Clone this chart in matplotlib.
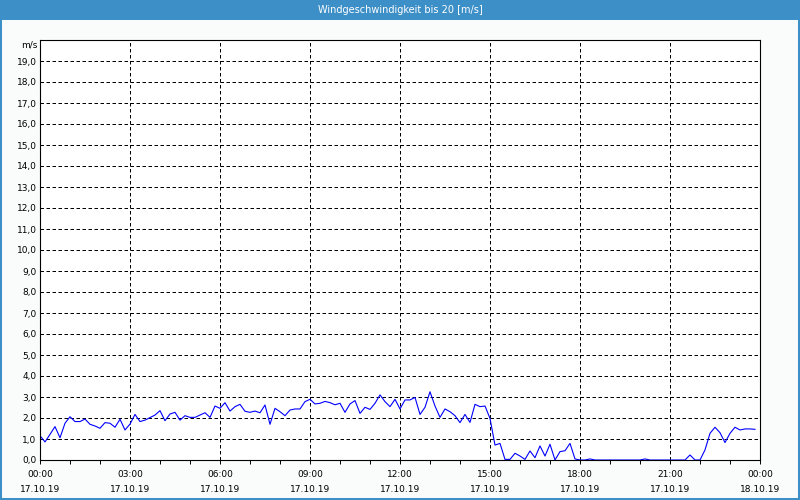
import numpy as np
import pandas as pd
import matplotlib
matplotlib.use('Agg')
from matplotlib import pyplot as plt
from matplotlib.patches import Rectangle
import matplotlib.dates as mdates

TITLE = 'Windgeschwindigkeit bis 20 [m/s]'
UNIT = 'm/s'
START = '2019-10-17 00:00'

# wind speed in m/s, one value every 10 minutes (00:00 .. 23:50)
wind = [
    1.16, 0.86, 1.22, 1.59, 1.06, 1.75,
    2.06, 1.83, 1.83, 1.95, 1.70, 1.62,
    1.51, 1.78, 1.75, 1.56, 1.94, 1.43,
    1.71, 2.17, 1.83, 1.90, 2.02, 2.14,
    2.35, 1.87, 2.19, 2.27, 1.90, 2.11,
    2.03, 2.03, 2.14, 2.25, 2.03, 2.57,
    2.46, 2.73, 2.33, 2.54, 2.65, 2.32,
    2.27, 2.33, 2.25, 2.62, 1.70, 2.46,
    2.30, 2.11, 2.38, 2.43, 2.43, 2.78,
    2.89, 2.67, 2.70, 2.79, 2.73, 2.63,
    2.70, 2.27, 2.67, 2.83, 2.22, 2.51,
    2.41, 2.70, 3.10, 2.78, 2.54, 2.89,
    2.43, 2.86, 2.86, 2.98, 2.17, 2.51,
    3.25, 2.57, 2.03, 2.43, 2.30, 2.11,
    1.78, 2.17, 1.79, 2.65, 2.54, 2.57,
    1.98, 0.71, 0.79, 0.03, 0.03, 0.32,
    0.19, 0.03, 0.43, 0.11, 0.67, 0.19,
    0.75, 0.00, 0.40, 0.44, 0.79, 0.05,
    0.00, 0.00, 0.05, 0.00, 0.00, 0.00,
    0.00, 0.00, 0.00, 0.00, 0.00, 0.00,
    0.00, 0.05, 0.00, 0.00, 0.00, 0.00,
    0.00, 0.00, 0.00, 0.00, 0.24, 0.00,
    0.00, 0.48, 1.27, 1.56, 1.30, 0.83,
    1.27, 1.56, 1.43, 1.48, 1.48, 1.46,
]
y_ticks = list(range(0, 20))

BLUE_BAR = '#3C8FC7'
plt.rcParams['font.family'] = 'DejaVu Sans'

times = pd.date_range(START, periods=len(wind), freq='10min')

fig = plt.figure(figsize=(8, 5), dpi=100, facecolor='#FAFCFC')
ax = fig.add_axes([0.05, 0.08, 0.90, 0.84])
ax.set_facecolor('white')

ax.plot(times, wind, color='#0000FF', linewidth=0.8, zorder=2)

x0 = pd.Timestamp(START)
x1 = x0 + pd.Timedelta(hours=24)
ax.set_xlim(x0, x1)
ax.set_ylim(0, 20)

major = pd.date_range(x0, x1, freq='3h')
ax.set_xticks(major, [t.strftime('%H:%M\n%d.%m.%y') for t in major])
ax.xaxis.set_minor_locator(mdates.HourLocator())
plt.setp(ax.get_xticklabels(), linespacing=1.75)
ax.tick_params(axis='x', which='both', direction='out', length=3, width=0.7,
               labelsize=6.5, pad=4.5)

ax.set_yticks(y_ticks, [f'{v:.1f}'.replace('.', ',') for v in y_ticks])
ax.tick_params(axis='y', length=0, labelsize=6.5, pad=2.5)
ax.text(-0.004, 19.75, UNIT, transform=ax.get_yaxis_transform(), ha='right',
        va='center', fontsize=6.5)

ax.grid(True, which='major', color='black', linewidth=0.72,
        linestyle=(0, (3.5, 2.5)))
ax.set_axisbelow(True)
for sp in ax.spines.values():
    sp.set_linewidth(0.8)
    sp.set_zorder(3)

# title bar and frame
fig.patches.append(Rectangle((0, 1 - 20 / 500), 1, 20 / 500, transform=fig.transFigure,
                             facecolor=BLUE_BAR, edgecolor='none', zorder=0))
fig.patches.append(Rectangle((0, 0), 1, 1, transform=fig.transFigure, fill=False,
                             edgecolor=BLUE_BAR, linewidth=2.9, zorder=0))
fig.text(0.5, 1 - 10 / 500, TITLE, color='white', ha='center', va='center', fontsize=7)

fig.savefig('out.png', dpi=100, facecolor=fig.get_facecolor())
